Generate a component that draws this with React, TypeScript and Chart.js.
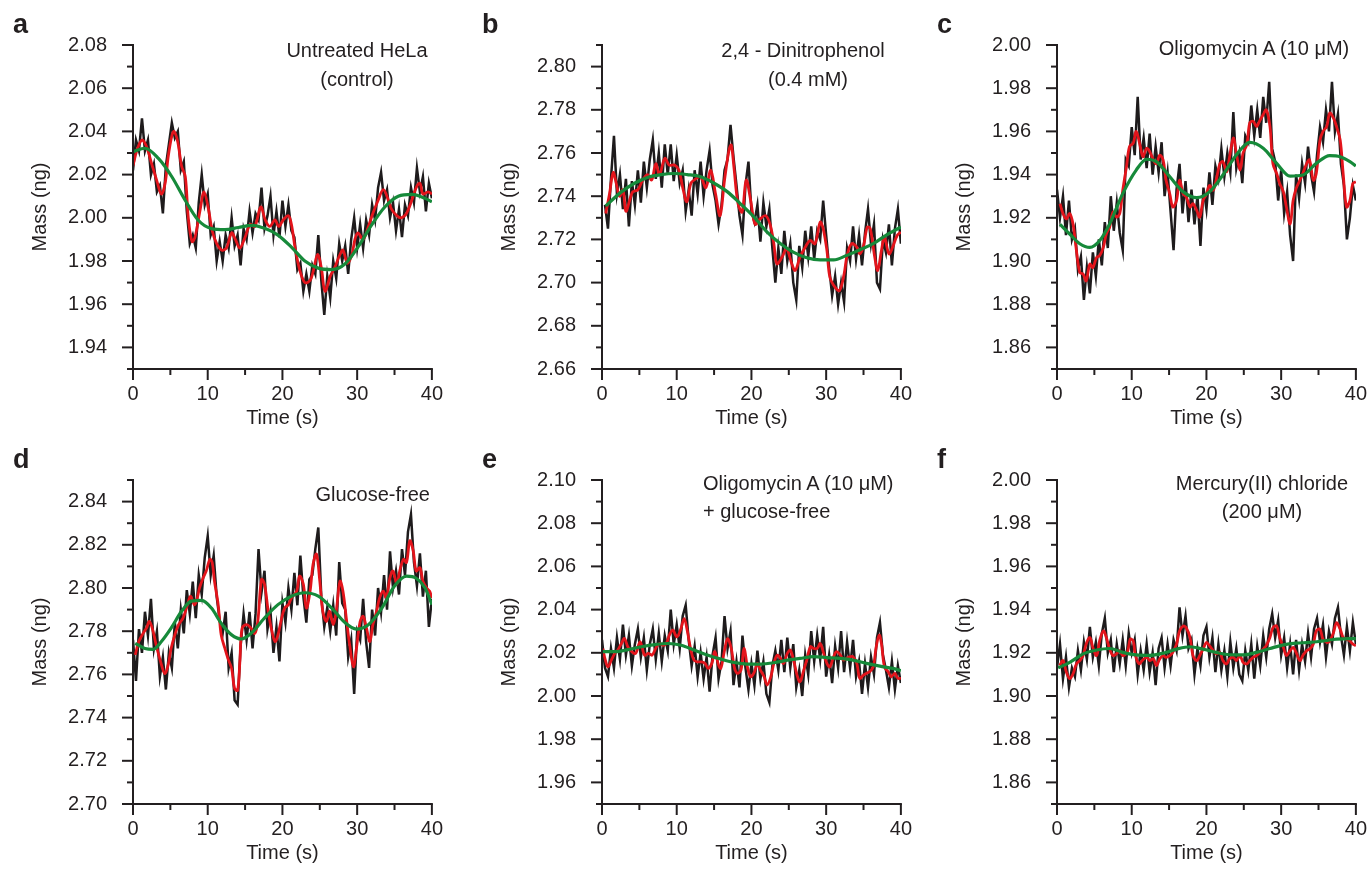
import React, { useEffect, useRef } from 'react';
import { Chart, registerables } from 'chart.js';

Chart.register(...registerables);

// ---------- data ----------
const RAW_TIME = [0, 0.4, 0.8, 1.2, 1.6, 2, 2.4, 2.8, 3.2, 3.6, 4, 4.4, 4.8, 5.2, 5.6, 6, 6.4, 6.8, 7.2, 7.6, 8, 8.4, 8.8, 9.2, 9.6, 10, 10.4, 10.8, 11.2, 11.6, 12, 12.4, 12.8, 13.2, 13.6, 14, 14.4, 14.8, 15.2, 15.6, 16, 16.4, 16.8, 17.2, 17.6, 18, 18.4, 18.8, 19.2, 19.6, 20, 20.4, 20.8, 21.2, 21.6, 22, 22.4, 22.8, 23.2, 23.6, 24, 24.4, 24.8, 25.2, 25.6, 26, 26.4, 26.8, 27.2, 27.6, 28, 28.4, 28.8, 29.2, 29.6, 30, 30.4, 30.8, 31.2, 31.6, 32, 32.4, 32.8, 33.2, 33.6, 34, 34.4, 34.8, 35.2, 35.6, 36, 36.4, 36.8, 37.2, 37.6, 38, 38.4, 38.8, 39.2, 39.6, 40];

const X_TICKS = [0, 10, 20, 30, 40];

// Panel a: Untreated HeLa (control)
const RAW_A = [2.022, 2.036, 2.031, 2.046, 2.031, 2.036, 2.020, 2.025, 2.012, 2.015, 2.002, 2.024, 2.034, 2.044, 2.037, 2.040, 2.022, 2.026, 2.003, 1.988, 1.992, 1.986, 2.007, 2.020, 2.006, 2.011, 1.992, 1.996, 1.980, 1.989, 1.980, 1.992, 1.986, 2.000, 1.987, 1.992, 1.978, 1.995, 1.990, 2.003, 1.993, 2.002, 1.999, 2.014, 1.995, 2.001, 2.010, 1.992, 2.003, 1.991, 2.008, 1.996, 2.006, 1.994, 1.991, 1.976, 1.979, 1.966, 1.974, 1.966, 1.978, 1.974, 1.992, 1.971, 1.955, 1.973, 1.963, 1.980, 1.972, 1.988, 1.980, 1.987, 1.974, 1.990, 2.000, 1.986, 1.997, 1.986, 1.999, 1.992, 2.006, 1.999, 2.014, 2.021, 2.008, 2.013, 2.000, 2.007, 1.994, 2.004, 1.991, 2.006, 2.001, 2.014, 2.007, 2.023, 2.012, 2.019, 2.003, 2.016, 2.009];
const RED_A = [[0, 2.024], [0.5, 2.031], [1.2, 2.036], [1.8, 2.033], [2.5, 2.025], [3.2, 2.017], [3.8, 2.011], [4.3, 2.016], [4.7, 2.028], [5.2, 2.038], [5.5, 2.040], [6.0, 2.035], [6.5, 2.024], [7.0, 2.019], [7.4, 2.000], [7.9, 1.989], [8.3, 1.991], [9.0, 2.004], [9.5, 2.012], [10.1, 2.004], [10.6, 1.994], [11.2, 1.988], [11.9, 1.985], [12.5, 1.986], [13.2, 1.993], [13.7, 1.990], [14.3, 1.986], [15.0, 1.991], [15.7, 1.997], [16.3, 1.996], [17.1, 2.005], [17.7, 1.999], [18.3, 1.996], [19.0, 1.999], [19.5, 1.996], [20.1, 1.999], [20.8, 2.001], [21.2, 1.997], [21.7, 1.986], [22.3, 1.976], [23.0, 1.970], [23.7, 1.971], [24.1, 1.975], [24.7, 1.983], [25.2, 1.977], [25.7, 1.966], [26.4, 1.973], [27.0, 1.977], [27.7, 1.983], [28.1, 1.985], [28.7, 1.979], [29.3, 1.983], [29.7, 1.990], [30.1, 1.993], [30.8, 1.990], [31.5, 1.996], [32.1, 2.002], [32.8, 2.008], [33.5, 2.013], [34.2, 2.008], [34.6, 2.004], [35.3, 2.001], [35.9, 2.000], [36.6, 2.002], [37.3, 2.008], [37.9, 2.014], [38.4, 2.016], [38.8, 2.011], [39.5, 2.012], [40.0, 2.011]];
const GREEN_A = [[0, 2.0306], [1.6, 2.0322], [3.4, 2.0275], [5.2, 2.019], [7.0, 2.008], [8.7, 1.999], [10.5, 1.995], [12.3, 1.9945], [14.1, 1.9955], [15.9, 1.9965], [17.7, 1.995], [19.4, 1.992], [21.2, 1.9864], [23.0, 1.980], [24.8, 1.9767], [26.6, 1.976], [28.4, 1.9787], [30.1, 1.9864], [31.9, 1.9965], [33.7, 2.005], [35.5, 2.010], [37.3, 2.0108], [39.1, 2.009], [40, 2.0074]];
const Y_TICKS_A = [1.94, 1.96, 1.98, 2.0, 2.02, 2.04, 2.06, 2.08];

// Panel b: 2,4 - Dinitrophenol
const RAW_B = [2.736, 2.725, 2.748, 2.768, 2.741, 2.750, 2.734, 2.748, 2.726, 2.747, 2.736, 2.752, 2.737, 2.756, 2.744, 2.757, 2.766, 2.748, 2.760, 2.744, 2.764, 2.750, 2.764, 2.747, 2.759, 2.746, 2.752, 2.733, 2.743, 2.731, 2.752, 2.741, 2.756, 2.740, 2.752, 2.761, 2.745, 2.738, 2.727, 2.736, 2.752, 2.757, 2.773, 2.758, 2.745, 2.731, 2.722, 2.745, 2.756, 2.733, 2.728, 2.736, 2.719, 2.737, 2.726, 2.734, 2.716, 2.700, 2.716, 2.704, 2.724, 2.710, 2.718, 2.700, 2.692, 2.717, 2.707, 2.724, 2.712, 2.726, 2.711, 2.724, 2.720, 2.738, 2.722, 2.707, 2.694, 2.703, 2.690, 2.700, 2.691, 2.716, 2.710, 2.726, 2.711, 2.722, 2.708, 2.723, 2.734, 2.718, 2.727, 2.700, 2.697, 2.720, 2.714, 2.727, 2.708, 2.725, 2.734, 2.718];
const RED_B = [[0.5, 2.732], [1.0, 2.741], [1.5, 2.751], [1.9, 2.746], [2.35, 2.740], [2.8, 2.743], [3.2, 2.733], [3.7, 2.738], [4.1, 2.742], [4.8, 2.743], [5.45, 2.7475], [6.1, 2.750], [6.65, 2.7475], [7.2, 2.755], [7.7, 2.750], [8.4, 2.7575], [9.0, 2.7544], [9.7, 2.7544], [10.3, 2.752], [10.8, 2.744], [11.35, 2.7374], [11.9, 2.746], [12.55, 2.748], [13.2, 2.749], [13.9, 2.744], [14.55, 2.752], [15.2, 2.741], [15.8, 2.731], [16.4, 2.7475], [17.0, 2.7614], [17.3, 2.7637], [17.65, 2.7536], [18.2, 2.7366], [18.75, 2.7327], [19.3, 2.7475], [19.9, 2.738], [20.5, 2.727], [21.2, 2.7296], [21.9, 2.731], [22.5, 2.727], [23.0, 2.718], [23.4, 2.7087], [24.1, 2.7118], [24.7, 2.7157], [25.4, 2.7087], [25.85, 2.7056], [26.5, 2.7118], [27.2, 2.7164], [27.85, 2.7195], [28.5, 2.718], [29.2, 2.728], [29.6, 2.725], [30.1, 2.7149], [30.5, 2.7025], [31.2, 2.6978], [31.8, 2.6963], [32.4, 2.704], [32.8, 2.7126], [33.4, 2.718], [34.1, 2.7164], [34.5, 2.7133], [35.0, 2.717], [35.5, 2.7257], [35.9, 2.725], [36.5, 2.7118], [36.9, 2.7056], [37.4, 2.7149], [37.8, 2.7211], [38.4, 2.7133], [38.9, 2.7164], [39.5, 2.7218], [40.0, 2.7234]];
const GREEN_B = [[0.5, 2.7355], [2.6, 2.742], [4.35, 2.746], [6.1, 2.7487], [7.9, 2.750], [9.7, 2.7505], [11.4, 2.750], [13.2, 2.749], [15.0, 2.746], [16.8, 2.742], [18.5, 2.7366], [20.3, 2.7305], [22.1, 2.7234], [23.9, 2.718], [25.6, 2.7141], [27.4, 2.7115], [29.2, 2.7105], [31.0, 2.7105], [32.7, 2.7125], [34.5, 2.7152], [36.3, 2.718], [38.0, 2.7219], [40, 2.7257]];
const Y_TICKS_B = [2.66, 2.68, 2.70, 2.72, 2.74, 2.76, 2.78, 2.80];

// Panel c: Oligomycin A (10 uM)
const RAW_C = [1.933, 1.920, 1.930, 1.912, 1.928, 1.910, 1.915, 1.896, 1.902, 1.882, 1.897, 1.885, 1.904, 1.893, 1.910, 1.898, 1.918, 1.906, 1.930, 1.914, 1.927, 1.913, 1.905, 1.947, 1.944, 1.962, 1.949, 1.976, 1.947, 1.957, 1.943, 1.959, 1.940, 1.953, 1.941, 1.955, 1.930, 1.941, 1.923, 1.905, 1.933, 1.945, 1.922, 1.937, 1.918, 1.933, 1.917, 1.930, 1.907, 1.934, 1.924, 1.941, 1.926, 1.944, 1.938, 1.952, 1.939, 1.950, 1.941, 1.969, 1.943, 1.950, 1.936, 1.958, 1.955, 1.972, 1.958, 1.970, 1.957, 1.976, 1.964, 1.983, 1.952, 1.946, 1.928, 1.942, 1.922, 1.932, 1.912, 1.900, 1.940, 1.929, 1.945, 1.936, 1.953, 1.940, 1.932, 1.949, 1.962, 1.955, 1.970, 1.960, 1.983, 1.960, 1.968, 1.945, 1.935, 1.910, 1.920, 1.935, 1.928];
const RED_C = [[0.4, 1.9265], [0.8, 1.922], [1.25, 1.9195], [1.7, 1.922], [2.15, 1.917], [2.6, 1.9048], [3.05, 1.8947], [3.5, 1.8939], [3.9, 1.8908], [4.4, 1.8986], [4.8, 1.897], [5.3, 1.9017], [5.7, 1.9024], [6.2, 1.9063], [6.6, 1.9125], [7.05, 1.9157], [7.5, 1.9227], [7.95, 1.9203], [8.4, 1.922], [8.8, 1.9328], [9.3, 1.9437], [9.7, 1.953], [10.2, 1.9545], [10.6, 1.960], [11.1, 1.9538], [11.5, 1.9483], [12.0, 1.9522], [12.4, 1.9507], [12.9, 1.9468], [13.3, 1.945], [13.75, 1.949], [14.2, 1.9468], [14.6, 1.9374], [15.1, 1.931], [15.5, 1.925], [16.0, 1.928], [16.4, 1.9374], [16.9, 1.931], [17.3, 1.9297], [17.8, 1.925], [18.2, 1.9265], [18.7, 1.9234], [19.1, 1.9203], [19.55, 1.928], [20.0, 1.931], [20.4, 1.935], [20.9, 1.9328], [21.3, 1.9374], [21.8, 1.945], [22.2, 1.946], [22.7, 1.9413], [23.1, 1.9483], [23.6, 1.957], [24.0, 1.9499], [24.5, 1.9421], [24.9, 1.9499], [25.4, 1.9538], [25.8, 1.9639], [26.25, 1.9647], [26.7, 1.9623], [27.1, 1.9647], [27.6, 1.9678], [28.0, 1.970], [28.5, 1.9623], [28.9, 1.945], [29.4, 1.9405], [29.8, 1.9359], [30.3, 1.932], [30.7, 1.925], [31.2, 1.9172], [31.6, 1.928], [32.0, 1.9335], [32.5, 1.9374], [32.9, 1.9405], [33.4, 1.945], [33.8, 1.9468], [34.3, 1.9374], [34.7, 1.9405], [35.2, 1.956], [35.6, 1.960], [36.1, 1.9623], [36.5, 1.9685], [37.0, 1.9662], [37.4, 1.9623], [37.9, 1.956], [38.3, 1.9405], [38.75, 1.925], [39.2, 1.928], [39.6, 1.9359], [40.0, 1.9367]];
const GREEN_C = [[0.4, 1.917], [1.7, 1.9125], [3.05, 1.908], [4.4, 1.9063], [5.7, 1.9094], [7.05, 1.9172], [8.8, 1.9312], [10.6, 1.9421], [12.0, 1.9471], [13.3, 1.946], [15.1, 1.939], [16.9, 1.932], [18.7, 1.9293], [20.4, 1.932], [22.2, 1.9398], [24.0, 1.9491], [25.8, 1.9549], [27.6, 1.9522], [29.4, 1.9452], [31.2, 1.9393], [32.9, 1.9398], [34.7, 1.9452], [36.5, 1.9488], [37.9, 1.9483], [39.2, 1.946], [40, 1.944]];
const Y_TICKS_C = [1.86, 1.88, 1.90, 1.92, 1.94, 1.96, 1.98, 2.00];

// Panel d: Glucose-free
const RAW_D = [2.776, 2.757, 2.781, 2.770, 2.789, 2.778, 2.795, 2.772, 2.780, 2.759, 2.768, 2.753, 2.770, 2.763, 2.784, 2.772, 2.790, 2.779, 2.799, 2.788, 2.803, 2.786, 2.806, 2.797, 2.814, 2.824, 2.806, 2.815, 2.796, 2.785, 2.779, 2.789, 2.763, 2.770, 2.748, 2.746, 2.773, 2.788, 2.776, 2.789, 2.772, 2.788, 2.818, 2.798, 2.808, 2.781, 2.789, 2.770, 2.782, 2.766, 2.793, 2.784, 2.800, 2.790, 2.807, 2.792, 2.815, 2.796, 2.784, 2.804, 2.806, 2.818, 2.828, 2.796, 2.782, 2.791, 2.780, 2.792, 2.778, 2.812, 2.793, 2.790, 2.768, 2.776, 2.751, 2.780, 2.776, 2.795, 2.775, 2.763, 2.790, 2.778, 2.800, 2.789, 2.806, 2.790, 2.817, 2.800, 2.808, 2.797, 2.818, 2.806, 2.826, 2.834, 2.812, 2.801, 2.816, 2.796, 2.808, 2.782, 2.795];
const RED_D = [[0.3, 2.769], [0.75, 2.775], [1.35, 2.779], [1.8, 2.7814], [2.2, 2.7845], [2.7, 2.7798], [3.1, 2.7736], [3.7, 2.7658], [4.25, 2.7604], [4.7, 2.7643], [5.1, 2.772], [5.6, 2.7783], [6.1, 2.783], [6.7, 2.7861], [7.3, 2.7923], [7.7, 2.7962], [8.2, 2.7923], [8.5, 2.7939], [8.9, 2.800], [9.4, 2.8048], [9.8, 2.8079], [10.3, 2.8133], [10.6, 2.8118], [10.9, 2.8032], [11.4, 2.7923], [11.8, 2.7783], [12.3, 2.772], [12.7, 2.7674], [13.2, 2.7627], [13.6, 2.7534], [14.0, 2.7526], [14.3, 2.7658], [14.6, 2.7814], [15.2, 2.783], [15.8, 2.7814], [16.3, 2.779], [16.7, 2.7845], [17.2, 2.804], [17.6, 2.8017], [18.1, 2.7892], [18.5, 2.7814], [19.0, 2.7752], [19.4, 2.7783], [19.9, 2.7861], [20.3, 2.7907], [20.8, 2.7923], [21.2, 2.7954], [21.9, 2.7985], [22.3, 2.8055], [22.8, 2.8017], [23.2, 2.7907], [23.7, 2.7985], [24.1, 2.811], [24.55, 2.8157], [25.0, 2.8032], [25.4, 2.7892], [25.9, 2.7845], [26.3, 2.7892], [26.8, 2.783], [27.2, 2.7892], [27.7, 2.8032], [28.1, 2.7985], [28.6, 2.7845], [29.0, 2.7736], [29.5, 2.7635], [29.9, 2.772], [30.4, 2.7845], [30.8, 2.7869], [31.25, 2.7814], [31.7, 2.7752], [32.1, 2.783], [32.6, 2.7892], [33.0, 2.7954], [33.5, 2.7985], [33.9, 2.7954], [34.4, 2.8048], [34.8, 2.8079], [35.3, 2.8017], [35.7, 2.8079], [36.2, 2.8133], [36.6, 2.8118], [37.05, 2.8219], [37.5, 2.8172], [37.9, 2.8079], [38.4, 2.8094], [38.8, 2.8032], [39.3, 2.800], [39.7, 2.7985], [40.0, 2.7954]];
const GREEN_D = [[0.3, 2.7744], [1.6, 2.772], [2.7, 2.7716], [3.8, 2.7752], [5.1, 2.7814], [6.5, 2.7892], [7.8, 2.7939], [9.2, 2.7943], [10.5, 2.7907], [11.8, 2.7837], [13.2, 2.7783], [14.5, 2.7764], [15.8, 2.779], [17.6, 2.7861], [19.4, 2.7923], [21.2, 2.7962], [23.0, 2.7978], [24.8, 2.7962], [26.6, 2.7907], [28.3, 2.7842], [29.9, 2.781], [31.5, 2.783], [33.3, 2.7907], [35.0, 2.8009], [36.6, 2.8055], [37.9, 2.8045], [39.1, 2.800], [40, 2.7923]];
const Y_TICKS_D = [2.70, 2.72, 2.74, 2.76, 2.78, 2.80, 2.82, 2.84];

// Panel e: Oligomycin A + glucose-free
const RAW_E = [2.026, 2.013, 2.009, 2.022, 2.013, 2.027, 2.017, 2.033, 2.019, 2.028, 2.014, 2.024, 2.031, 2.018, 2.027, 2.012, 2.024, 2.031, 2.017, 2.029, 2.016, 2.028, 2.021, 2.040, 2.024, 2.033, 2.022, 2.037, 2.042, 2.026, 2.014, 2.023, 2.009, 2.020, 2.008, 2.018, 2.002, 2.019, 2.027, 2.008, 2.016, 2.037, 2.022, 2.030, 2.005, 2.016, 2.004, 2.028, 2.013, 2.003, 2.015, 2.005, 2.021, 2.008, 2.016, 2.001, 1.997, 2.014, 2.021, 2.012, 2.026, 2.011, 2.027, 2.013, 2.024, 2.004, 2.012, 2.000, 2.019, 2.010, 2.030, 2.016, 2.028, 2.017, 2.032, 2.009, 2.019, 2.006, 2.023, 2.013, 2.030, 2.011, 2.025, 2.013, 2.026, 2.009, 2.016, 2.001, 2.015, 2.004, 2.018, 2.010, 2.027, 2.034, 2.019, 2.012, 2.004, 2.016, 2.003, 2.014, 2.006];
const RED_E = [[0.1, 2.022], [0.45, 2.0166], [0.8, 2.0135], [1.25, 2.0166], [1.7, 2.0197], [2.1, 2.0212], [2.6, 2.0243], [3.0, 2.0266], [3.45, 2.0228], [4.0, 2.0205], [4.5, 2.0197], [5.1, 2.0251], [5.7, 2.0189], [6.2, 2.0197], [6.7, 2.0189], [7.3, 2.0228], [7.7, 2.0243], [8.2, 2.0235], [8.6, 2.0243], [9.1, 2.0289], [9.5, 2.0305], [10.0, 2.0274], [10.5, 2.0305], [11.0, 2.0358], [11.4, 2.0305], [11.9, 2.0212], [12.3, 2.0166], [12.8, 2.0158], [13.3, 2.0158], [13.8, 2.0151], [14.2, 2.0128], [14.7, 2.0151], [15.1, 2.0205], [15.6, 2.0143], [15.9, 2.0128], [16.4, 2.0212], [16.8, 2.0266], [17.3, 2.022], [17.7, 2.0135], [18.1, 2.0105], [18.6, 2.012], [19.0, 2.022], [19.5, 2.0128], [19.9, 2.0089], [20.4, 2.0112], [20.8, 2.0151], [21.2, 2.012], [21.7, 2.0089], [22.1, 2.0051], [22.6, 2.0089], [23.0, 2.0151], [23.45, 2.0189], [23.9, 2.0174], [24.3, 2.0151], [24.8, 2.0197], [25.2, 2.0212], [25.7, 2.0158], [26.1, 2.0097], [26.5, 2.0066], [27.0, 2.012], [27.4, 2.0166], [27.9, 2.0228], [28.3, 2.022], [28.8, 2.022], [29.2, 2.0243], [29.6, 2.0205], [30.1, 2.0151], [30.5, 2.0135], [31.0, 2.0182], [31.4, 2.0205], [31.9, 2.0189], [32.3, 2.0166], [32.7, 2.0174], [33.2, 2.0182], [33.6, 2.0182], [34.1, 2.0151], [34.5, 2.0082], [35.0, 2.0097], [35.4, 2.0105], [35.8, 2.0112], [36.3, 2.0135], [36.7, 2.0228], [37.1, 2.0282], [37.4, 2.0243], [37.8, 2.0135], [38.3, 2.0112], [38.7, 2.0089], [39.2, 2.0105], [39.6, 2.0082], [40.0, 2.0082]];
const GREEN_E = [[0.1, 2.0205], [1.8, 2.0205], [3.5, 2.0215], [5.3, 2.0228], [7.1, 2.0238], [8.85, 2.0243], [10.6, 2.0235], [12.4, 2.0212], [14.2, 2.0189], [15.9, 2.0171], [17.7, 2.0155], [19.5, 2.0148], [21.2, 2.0148], [23.0, 2.0154], [24.8, 2.0166], [26.5, 2.0174], [28.3, 2.0182], [30.1, 2.0178], [31.9, 2.0174], [33.6, 2.0166], [35.4, 2.0151], [37.2, 2.0138], [38.9, 2.0128], [40, 2.0117]];
const Y_TICKS_E = [1.96, 1.98, 2.00, 2.02, 2.04, 2.06, 2.08, 2.10];

// Panel f: Mercury(II) chloride
const RAW_F = [1.913, 1.924, 1.908, 1.918, 1.904, 1.913, 1.909, 1.921, 1.912, 1.925, 1.917, 1.932, 1.918, 1.925, 1.914, 1.929, 1.936, 1.920, 1.926, 1.911, 1.924, 1.915, 1.926, 1.914, 1.929, 1.920, 1.926, 1.910, 1.921, 1.912, 1.924, 1.911, 1.920, 1.905, 1.922, 1.927, 1.913, 1.924, 1.914, 1.926, 1.921, 1.941, 1.928, 1.937, 1.922, 1.926, 1.910, 1.922, 1.914, 1.928, 1.932, 1.918, 1.927, 1.911, 1.924, 1.912, 1.921, 1.909, 1.925, 1.913, 1.922, 1.910, 1.907, 1.921, 1.912, 1.924, 1.908, 1.923, 1.914, 1.928, 1.918, 1.931, 1.938, 1.927, 1.935, 1.919, 1.927, 1.913, 1.924, 1.910, 1.926, 1.912, 1.924, 1.916, 1.929, 1.918, 1.931, 1.936, 1.925, 1.933, 1.918, 1.930, 1.924, 1.936, 1.941, 1.928, 1.919, 1.932, 1.921, 1.934, 1.924];
const RED_F = [[0.35, 1.9141], [0.8, 1.9164], [1.25, 1.9111], [1.7, 1.908], [2.15, 1.9103], [2.6, 1.9149], [3.05, 1.9164], [3.5, 1.9187], [3.9, 1.924], [4.4, 1.9271], [4.8, 1.9225], [5.3, 1.9187], [5.7, 1.9255], [6.2, 1.9301], [6.6, 1.9271], [7.05, 1.9217], [7.5, 1.9187], [7.95, 1.9195], [8.4, 1.921], [8.8, 1.9187], [9.4, 1.9202], [9.8, 1.9263], [10.2, 1.9255], [10.5, 1.9187], [11.0, 1.9149], [11.4, 1.9164], [12.0, 1.9179], [12.4, 1.9164], [12.9, 1.9172], [13.3, 1.9141], [13.75, 1.9172], [14.2, 1.9187], [14.6, 1.9179], [15.1, 1.9187], [15.5, 1.9202], [16.0, 1.924], [16.4, 1.9301], [16.9, 1.9324], [17.3, 1.9316], [17.8, 1.9271], [18.2, 1.9187], [18.7, 1.9164], [19.1, 1.9187], [19.55, 1.9217], [20.0, 1.9248], [20.4, 1.9233], [20.9, 1.921], [21.3, 1.9195], [21.8, 1.9202], [22.2, 1.9164], [22.7, 1.9149], [23.1, 1.9172], [23.6, 1.9179], [24.0, 1.9164], [24.5, 1.9187], [24.9, 1.9156], [25.4, 1.9149], [25.8, 1.9164], [26.25, 1.9179], [26.7, 1.9187], [27.1, 1.9202], [27.6, 1.9217], [28.0, 1.9233], [28.5, 1.9271], [28.9, 1.9316], [29.4, 1.9324], [29.8, 1.9271], [30.3, 1.9225], [30.7, 1.9187], [31.2, 1.921], [31.6, 1.9225], [32.0, 1.9202], [32.5, 1.9164], [32.9, 1.9187], [33.4, 1.921], [33.8, 1.9217], [34.3, 1.924], [34.7, 1.9301], [35.2, 1.9309], [35.6, 1.9263], [36.1, 1.9248], [36.5, 1.9255], [37.0, 1.9293], [37.4, 1.9339], [37.9, 1.9309], [38.3, 1.9271], [38.75, 1.9263], [39.2, 1.9255], [39.6, 1.924], [40.0, 1.9233]];
const GREEN_F = [[0.15, 1.913], [1.7, 1.9156], [3.5, 1.9195], [5.3, 1.9213], [7.05, 1.922], [8.8, 1.9202], [10.6, 1.919], [12.4, 1.9188], [14.2, 1.9198], [16.0, 1.9217], [17.8, 1.9228], [19.55, 1.9217], [21.3, 1.9202], [23.1, 1.9191], [24.9, 1.919], [26.7, 1.9202], [28.5, 1.922], [30.3, 1.9237], [32.0, 1.9245], [33.8, 1.9248], [35.6, 1.9255], [37.4, 1.9263], [39.2, 1.9266], [40, 1.9266]];
const Y_TICKS_F = [1.86, 1.88, 1.90, 1.92, 1.94, 1.96, 1.98, 2.00];

// ---------- styles ----------
const INK = '#231f20';
const RED = '#e3141b';
const GREEN = '#168a3a';
const FONT = "'Liberation Sans', Arial, Helvetica, sans-serif";

const CANVAS_W = 456;
const CANVAS_H = 430;
const PLOT_LEFT = 133;
const PLOT_TOP = 45;
const X_AXIS_H = 61;

type Note = { text: string; x: number; y: number; align: 'left' | 'center' | 'right' };
type PanelDef = {
  letter: string;
  left: number;
  top: number;
  raw: number[];
  rawStart: number;
  red: number[][];
  green: number[][];
  yMin: number;
  yMax: number;
  yTicks: number[];
  notes: Note[];
};

const PANELS: PanelDef[] = [
  { letter: 'a', left: 0, top: 0, raw: RAW_A, rawStart: 0, red: RED_A, green: GREEN_A, yMin: 1.93, yMax: 2.08, yTicks: Y_TICKS_A,
    notes: [{ text: 'Untreated HeLa', x: 357, y: 50, align: 'center' }, { text: '(control)', x: 357, y: 79, align: 'center' }] },
  { letter: 'b', left: 469, top: 0, raw: RAW_B, rawStart: 1, red: RED_B, green: GREEN_B, yMin: 2.66, yMax: 2.81, yTicks: Y_TICKS_B,
    notes: [{ text: '2,4 - Dinitrophenol', x: 803, y: 50, align: 'center' }, { text: '(0.4 mM)', x: 808, y: 79, align: 'center' }] },
  { letter: 'c', left: 924, top: 0, raw: RAW_C, rawStart: 0, red: RED_C, green: GREEN_C, yMin: 1.85, yMax: 2.00, yTicks: Y_TICKS_C,
    notes: [{ text: 'Oligomycin A (10 μM)', x: 1254, y: 48, align: 'center' }] },
  { letter: 'd', left: 0, top: 435, raw: RAW_D, rawStart: 0, red: RED_D, green: GREEN_D, yMin: 2.70, yMax: 2.85, yTicks: Y_TICKS_D,
    notes: [{ text: 'Glucose-free', x: 430, y: 494, align: 'right' }] },
  { letter: 'e', left: 469, top: 435, raw: RAW_E, rawStart: 0, red: RED_E, green: GREEN_E, yMin: 1.95, yMax: 2.10, yTicks: Y_TICKS_E,
    notes: [{ text: 'Oligomycin A (10 μM)', x: 703, y: 483, align: 'left' }, { text: '+ glucose-free', x: 703, y: 511, align: 'left' }] },
  { letter: 'f', left: 924, top: 435, raw: RAW_F, rawStart: 0, red: RED_F, green: GREEN_F, yMin: 1.85, yMax: 2.00, yTicks: Y_TICKS_F,
    notes: [{ text: 'Mercury(II) chloride', x: 1262, y: 483, align: 'center' }, { text: '(200 μM)', x: 1262, y: 511, align: 'center' }] },
];

// draws the axis lines with major and minor tick marks, positioned by the chart scales
function makeAxisPlugin(yTicks: number[]) {
  return {
    id: 'axisTicks',
    afterDraw(chart: any) {
      const { ctx, chartArea, scales } = chart;
      const xs = scales.x;
      const ys = scales.y;
      ctx.save();
      ctx.strokeStyle = INK;
      ctx.lineWidth = 2;
      ctx.lineCap = 'butt';
      const yTop = ys.getPixelForValue(ys.max);
      const yBot = ys.getPixelForValue(ys.min);
      const ax = chartArea.left;
      ctx.beginPath();
      ctx.moveTo(ax, yTop - 1);
      ctx.lineTo(ax, yBot + 1);
      ctx.stroke();
      ctx.beginPath();
      ctx.moveTo(ax - 1, yBot);
      ctx.lineTo(xs.getPixelForValue(xs.max) + 1, yBot);
      ctx.stroke();
      const n = Math.round((ys.max - ys.min) / 0.01);
      for (let i = 0; i <= n; i++) {
        const v = ys.min + i * 0.01;
        const major = yTicks.some((t) => Math.abs(t - v) < 1e-6);
        const py = ys.getPixelForValue(v);
        ctx.beginPath();
        ctx.moveTo(ax, py);
        ctx.lineTo(ax - (major ? 11 : 6), py);
        ctx.stroke();
      }
      for (let v = xs.min; v <= xs.max + 1e-6; v += 5) {
        const major = X_TICKS.indexOf(v) >= 0;
        const px = xs.getPixelForValue(v);
        ctx.beginPath();
        ctx.moveTo(px, yBot);
        ctx.lineTo(px, yBot + (major ? 11 : 6));
        ctx.stroke();
      }
      ctx.restore();
    },
  };
}

function PanelChart({ def }: { def: PanelDef }) {
  const ref = useRef<HTMLCanvasElement | null>(null);
  useEffect(() => {
    if (!ref.current) return;
    const rawPts = def.raw.map((v, i) => ({ x: RAW_TIME[i + def.rawStart], y: v }));
    const redPts = def.red.map((p) => ({ x: p[0], y: p[1] }));
    const greenPts = def.green.map((p) => ({ x: p[0], y: p[1] }));
    const chart = new Chart(ref.current, {
      type: 'line',
      data: {
        datasets: [
          { data: greenPts, borderColor: GREEN, borderWidth: 3.2, pointRadius: 0, tension: 0.4, cubicInterpolationMode: 'monotone', fill: false } as any,
          { data: redPts, borderColor: RED, borderWidth: 2.8, pointRadius: 0, tension: 0.35, fill: false } as any,
          { data: rawPts, borderColor: '#1e1b1c', borderWidth: 2.5, pointRadius: 0, tension: 0, fill: false } as any,
        ],
      },
      options: {
        responsive: false,
        animation: false,
        events: [],
        layout: { padding: { left: 0, top: PLOT_TOP, right: 0, bottom: 0 } },
        plugins: { legend: { display: false }, tooltip: { enabled: false }, title: { display: false } },
        scales: {
          x: {
            type: 'linear',
            min: 0,
            max: 40,
            grid: { display: false, drawTicks: false },
            border: { display: false },
            afterBuildTicks: (s: any) => { s.ticks = X_TICKS.map((v) => ({ value: v })); },
            afterFit: (s: any) => { s.height = X_AXIS_H; },
            ticks: { color: INK, padding: 13, font: { family: FONT, size: 20 }, maxRotation: 0, callback: (v: any) => String(v) },
            title: { display: true, text: 'Time (s)', color: INK, padding: { top: 0, bottom: 0 }, font: { family: FONT, size: 20 } },
          },
          y: {
            type: 'linear',
            min: def.yMin,
            max: def.yMax,
            grid: { display: false, drawTicks: false },
            border: { display: false },
            afterBuildTicks: (s: any) => { s.ticks = def.yTicks.map((v) => ({ value: v })); },
            afterFit: (s: any) => { s.width = PLOT_LEFT; },
            ticks: { color: INK, padding: 26, font: { family: FONT, size: 20 }, callback: (v: any) => Number(v).toFixed(2) },
            title: { display: true, text: 'Mass (ng)', color: INK, padding: { top: 28, bottom: 0 }, font: { family: FONT, size: 20 } },
          },
        },
      } as any,
      plugins: [makeAxisPlugin(def.yTicks)],
    });
    return () => chart.destroy();
  }, [def]);

  return (
    <canvas
      ref={ref}
      width={CANVAS_W}
      height={CANVAS_H}
      style={{ position: 'absolute', left: def.left, top: def.top, width: CANVAS_W, height: CANVAS_H }}
    />
  );
}

function NoteText({ note }: { note: Note }) {
  const base: any = {
    position: 'absolute',
    top: note.y - 12,
    fontFamily: FONT,
    fontSize: 20,
    lineHeight: '24px',
    color: INK,
    whiteSpace: 'nowrap',
  };
  if (note.align === 'center') {
    return <div style={{ ...base, left: note.x - 150, width: 300, textAlign: 'center' }}>{note.text}</div>;
  }
  if (note.align === 'right') {
    return <div style={{ ...base, left: note.x - 300, width: 300, textAlign: 'right' }}>{note.text}</div>;
  }
  return <div style={{ ...base, left: note.x }}>{note.text}</div>;
}

export default function App() {
  return (
    <div style={{ position: 'absolute', left: 0, top: 0, width: 1370, height: 881, background: '#ffffff', overflow: 'hidden' }}>
      {PANELS.map((p) => (
        <PanelChart key={p.letter} def={p} />
      ))}
      {PANELS.map((p) => (
        <div
          key={'l' + p.letter}
          style={{
            position: 'absolute',
            left: p.left + 13,
            top: p.top + 8,
            fontFamily: FONT,
            fontWeight: 'bold',
            fontSize: 27,
            lineHeight: '32px',
            color: INK,
          }}
        >
          {p.letter}
        </div>
      ))}
      {PANELS.map((p) => p.notes.map((n, i) => <NoteText key={p.letter + i} note={n} />))}
    </div>
  );
}
